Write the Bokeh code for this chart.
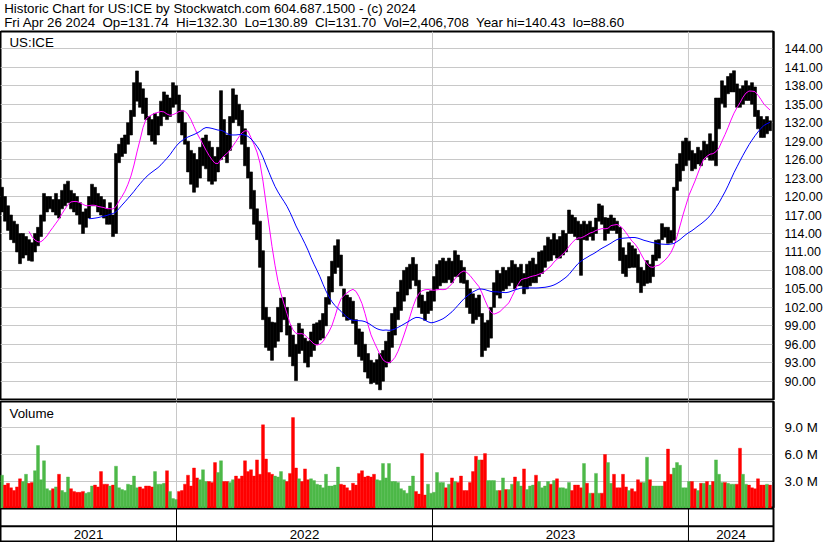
import pandas as pd
from bokeh.plotting import figure
from bokeh.models import Range1d, FixedTicker, Span, Label, NumeralTickFormatter
from bokeh.layouts import column
from bokeh.embed import file_html
from bokeh.resources import INLINE
from bokeh.core.properties import value

NB = "\u00a0 "  # keeps the double spacing of the original header
TITLE_1 = "Historic Chart for US:ICE by Stockwatch.com 604.687.1500 - (c) 2024"
TITLE_2 = NB.join(["Fri Apr 26 2024", "Op=131.74", "Hi=132.30", "Lo=130.89",
                   "Cl=131.70", "Vol=2,406,708", "Year hi=140.43", "lo=88.60"])
SYMBOL = "US:ICE"

# one bar = 3 trading days
HIGH = [121.5, 120, 118.5, 117, 116, 115.5, 114, 114, 113.5, 113,
        112.5, 114, 115, 117, 120.5, 120, 120, 119.5, 120.5, 119.5,
        121, 122, 122.5, 121, 120.5, 120, 119, 117.5, 118, 120,
        122, 121.5, 120.5, 120, 119.5, 118, 119, 117, 127, 128.5,
        129.5, 130, 132, 134, 138.5, 140.4, 138.5, 137.5, 136, 133,
        132.5, 133.5, 133, 135.5, 137, 136.5, 136, 138.5, 138, 136.5,
        134, 132, 129, 127.5, 127, 126, 128, 129.5, 130, 129,
        128, 126.5, 128, 137.2, 132.5, 130, 133, 137.5, 136.5, 135,
        134, 131, 128, 124, 121, 118, 116, 111.2, 102, 100.4,
        99.6, 99.5, 102, 103.5, 103.6, 102, 99, 97.5, 96, 99.4,
        98.5, 97, 96.5, 98, 99.3, 99.5, 99.9, 101, 103.6, 107,
        109.5, 112, 113, 110.5, 105, 104, 103.6, 103, 100, 98.5,
        98, 96, 94.5, 93.4, 93, 93.5, 94.5, 95, 96.5, 98,
        101, 102, 104.5, 106.4, 108, 108.5, 109, 110.1, 109, 106.4,
        104, 103, 104.5, 104.7, 107, 109, 109.6, 110, 109.5, 110,
        109.5, 111.2, 110.5, 109.6, 108.5, 106.4, 105, 104.2, 103.5, 104,
        101, 99.5, 99.9, 102, 106, 108, 107.5, 108.5, 108, 108.5,
        109.6, 109, 108.5, 109, 107.5, 109, 109.5, 110, 109, 111,
        111.2, 112, 113.4, 113, 114, 113, 113.5, 114.5, 114, 117.8,
        117, 116.6, 116, 115.5, 116, 115.5, 116, 115, 116.5, 118.8,
        118.5, 116.6, 116.5, 117, 116.5, 116, 115, 111.7, 110.5, 112.5,
        112, 111.5, 110.6, 108.5, 108, 109.6, 109, 110.5, 112.9, 113,
        115.6, 115, 115, 114.5, 121.5, 125.3, 127, 129, 129.5, 129,
        127.5, 127, 128, 127.5, 129, 128.5, 130.2, 129, 136, 136,
        138.8, 138, 139.5, 140, 140.43, 138.3, 137.5, 138, 138.8, 138,
        138.5, 137.8, 134, 133, 132.5, 133, 132.3]
LOW = [117.5, 116, 114.5, 113, 112.5, 111, 109.1, 110, 110.5, 109.6,
       109.5, 111, 112, 113.5, 116, 117.5, 118, 117.5, 117, 116.5,
       118, 118.5, 119, 118, 117.5, 117, 115.5, 114, 115, 116.5,
       118.5, 118.5, 117.5, 117, 116.5, 115.5, 115.5, 113.5, 114, 125.5,
       126.5, 127, 128.5, 130, 133, 135.5, 134.5, 133.5, 132.5, 130,
       129, 128.5, 130, 131.5, 133, 132.5, 133, 134.5, 135, 132,
       130, 128.5, 124, 122, 120.7, 121.5, 123, 125, 124.5, 122.5,
       122, 122.5, 124, 126, 126.5, 125.5, 127.5, 132, 132.5, 131.5,
       128.5, 125, 123, 118, 115.5, 113, 108.5, 100, 95.5, 95,
       93.4, 95.5, 96.5, 98, 100, 97.5, 94, 92.5, 90.1, 94.5,
       95, 93, 92.3, 94, 95, 96, 96.7, 97, 99, 102.5,
       104.5, 107.5, 108.5, 105.5, 100.5, 99.9, 100, 99.4, 96, 94,
       93.4, 91.5, 90.5, 89.6, 89.8, 89.5, 88.6, 90, 92.3, 93,
       95.5, 97.5, 100, 101.5, 103, 104, 105, 106.4, 105.5, 102,
       101, 99.9, 101, 101.5, 103, 105, 105.5, 106, 106, 106.5,
       106, 107, 107, 106, 105.9, 102, 101, 99.4, 100, 100.5,
       94, 95, 95.5, 97, 102, 104, 103.5, 104.7, 105, 105.5,
       106, 105, 105.5, 105.5, 104.2, 105, 105.5, 106, 106, 107,
       107.5, 108.5, 109.5, 109.6, 110.5, 110, 110, 110.5, 111, 114,
       114, 113.5, 113, 107.2, 113, 112.9, 113.5, 112.9, 114, 116,
       115.5, 112.9, 114, 114.5, 114.5, 114, 109.6, 107.5, 107, 108.4,
       108.5, 108.5, 106, 104.4, 105.5, 105.9, 106, 107, 109.6, 110,
       113, 113.4, 112.4, 112.5, 112.9, 121, 122.5, 124.2, 125, 125.9,
       124.2, 124.5, 125.3, 125, 126, 126.4, 125.9, 125.9, 125, 131,
       135.1, 134.5, 136.7, 137, 137, 134.5, 134.5, 135, 135.6, 135.6,
       135, 133, 131, 129.6, 129.6, 130.2, 130.7]
# volume per bar, millions of shares
VOLUME_M = [3.7, 2.6, 2.8, 2.3, 2.0, 2.4, 3.3, 3.0, 3.8, 2.8,
            2.9, 4.2, 7.0, 3.2, 5.3, 2.2, 2.0, 2.2, 2.4, 3.8,
            2.0, 1.8, 3.5, 2.2, 1.9, 1.8, 1.8, 1.9, 1.7, 1.8,
            2.5, 2.6, 2.4, 4.1, 2.7, 2.7, 2.5, 2.6, 4.7, 2.3,
            2.1, 2.0, 2.7, 2.6, 3.6, 2.3, 2.4, 2.2, 2.5, 2.5,
            2.4, 4.1, 2.7, 2.7, 2.8, 4.2, 1.9, 1.1, 1.0, 1.9,
            2.0, 2.7, 3.7, 2.5, 4.5, 3.4, 3.2, 4.3, 3.0, 3.0,
            2.9, 5.1, 4.0, 5.3, 3.0, 3.0, 2.9, 3.2, 3.6, 3.3,
            3.6, 5.3, 4.1, 4.3, 3.6, 5.4, 3.8, 9.3, 5.5, 4.0,
            3.8, 3.6, 3.5, 4.1, 3.2, 3.0, 3.9, 10.1, 4.5, 3.3,
            3.0, 4.4, 3.2, 3.3, 3.1, 2.7, 2.6, 2.3, 3.8, 2.5,
            2.5, 2.6, 4.6, 2.7, 2.6, 2.3, 2.0, 2.8, 2.6, 3.9,
            4.2, 3.5, 3.6, 3.5, 3.8, 3.2, 3.1, 5.0, 3.4, 5.0,
            3.0, 3.0, 2.9, 2.2, 2.0, 1.7, 2.5, 3.6, 1.9, 1.6,
            6.1, 1.5, 2.7, 1.7, 1.8, 4.0, 2.9, 2.9, 2.3, 2.7,
            3.4, 3.0, 2.9, 3.6, 2.0, 2.0, 2.9, 4.1, 5.8, 5.4,
            5.4, 6.1, 3.1, 3.1, 3.1, 2.0, 2.0, 3.4, 2.1, 2.1,
            2.7, 3.5, 3.0, 2.5, 4.4, 2.1, 2.5, 2.6, 3.7, 3.0,
            2.3, 2.5, 3.0, 2.7, 3.1, 3.3, 2.3, 2.3, 2.2, 2.9,
            2.0, 2.6, 2.6, 2.3, 5.0, 2.8, 1.7, 1.7, 3.9, 1.7,
            1.7, 6.0, 5.1, 2.8, 3.8, 2.3, 2.3, 3.8, 2.4, 2.0,
            2.2, 1.9, 3.2, 2.9, 2.9, 5.7, 3.2, 2.5, 2.5, 2.5,
            2.5, 3.0, 6.6, 3.8, 4.5, 5.1, 4.8, 2.3, 2.3, 3.0,
            3.0, 2.2, 2.0, 2.8, 2.8, 3.0, 2.6, 3.0, 5.4, 3.8,
            2.9, 2.9, 2.8, 2.7, 2.7, 2.7, 6.7, 3.8, 2.7, 2.6,
            2.3, 2.2, 3.3, 2.6, 2.6, 2.7, 2.6]

PRICE_TICKS = [90, 93, 96, 99, 102, 105, 108, 111, 114, 117, 120, 123, 126,
               129, 132, 135, 138, 141, 144]
VOLUME_TICKS = [3, 6, 9]
VOLUME_LABELS = ["3.0 M", "6.0 M", "9.0 M"]
YEAR_LABELS = ["2021", "2022", "2023", "2024"]
YEAR_STARTS = [58.67, 144.0, 229.33]   # bar position where each new year begins
MA_FAST = 10   # bars (30 days)
MA_SLOW = 30   # bars (90 days)

FONT = "Liberation Sans"
GRID = "#c8c8c8"
GREEN = "#4db848"
RED = "#ff0000"

n = len(HIGH)
xs = [i + 0.5 for i in range(n)]
mid = pd.Series([(h + l) / 2 for h, l in zip(HIGH, LOW)])
ma_fast = mid.rolling(MA_FAST).mean().tolist()
ma_slow = mid.rolling(MA_SLOW).mean().tolist()
vol_colors = [GREEN if i == 0 or mid[i] >= mid[i - 1] else RED for i in range(n)]

W = 830
RIGHT = 57
x_range = Range1d(0, n + 0.67)


def base(height, y_range, x_rng, right=RIGHT, axis=True, top=0):
    f = figure(width=W, height=height, x_range=x_rng, y_range=y_range,
               output_backend="svg", toolbar_location=None,
               x_axis_location=None, y_axis_location="right" if axis else None,
               min_border_left=0, min_border_right=right, min_border_top=top,
               min_border_bottom=0)
    f.background_fill_color = "white"
    f.border_fill_color = "white"
    f.xgrid.visible = False
    return f


def style_axis(f, ticks, size):
    ax = f.yaxis[0]
    ax.ticker = FixedTicker(ticks=ticks)
    ax.axis_line_color = "black"
    ax.axis_line_width = 2
    ax.major_tick_line_color = None
    ax.minor_tick_line_color = None
    ax.major_label_standoff = 5
    ax.major_label_text_font = FONT
    ax.major_label_text_font_size = size
    ax.major_label_text_color = "black"
    f.ygrid.ticker = FixedTicker(ticks=ticks)
    f.ygrid.grid_line_color = GRID


# --- title strip ---
t = base(31, Range1d(0, 31), Range1d(0, W), right=0, axis=False)
t.outline_line_color = None
t.ygrid.visible = False
t.text(x=[4, 4], y=[23.0, 9.2], text=[TITLE_1, TITLE_2],
       text_font=value(FONT), text_font_size=value("13.3px"),
       text_baseline="middle", text_align="left", text_color="black")
t.add_layout(Span(location=0.5, dimension="width", line_color="black", line_width=1))

# --- price panel ---
p = base(369, Range1d(86.87, 146.81), x_range)
p.outline_line_color = "black"
p.outline_line_width = 2
style_axis(p, PRICE_TICKS, "12.5px")
p.yaxis[0].formatter = NumeralTickFormatter(format="0.00")
for ys in YEAR_STARTS:
    p.add_layout(Span(location=ys, dimension="height", line_color=GRID,
                      line_width=1, level="underlay"))
p.vbar(x=xs, width=1.0, top=HIGH, bottom=LOW, fill_color="black",
       line_color="black", line_width=0.6)
p.line(xs, ma_fast, line_color="#ff00ff", line_width=1)
p.line(xs, ma_slow, line_color="#0000ff", line_width=1)
p.add_layout(Label(x=3.0, y=145.0, text=SYMBOL, text_font=FONT, text_font_size="13.3px",
                   text_baseline="middle", text_align="left", text_color="black"))

# --- volume panel ---
v = base(108, Range1d(0, 11.89), x_range, top=1)
v.outline_line_color = "black"
v.outline_line_width = 2
style_axis(v, VOLUME_TICKS, "13.3px")
v.yaxis[0].major_label_overrides = {t_: l_ for t_, l_ in zip(VOLUME_TICKS, VOLUME_LABELS)}
for ys in YEAR_STARTS:
    v.add_layout(Span(location=ys, dimension="height", line_color=GRID,
                      line_width=1, level="underlay"))
v.vbar(x=xs, width=1.0, top=VOLUME_M, bottom=0, fill_color=vol_colors,
       line_color=vol_colors, line_width=0.4)
v.add_layout(Label(x=3.0, y=10.6, text="Volume", text_font=FONT, text_font_size="13.3px",
                   text_baseline="middle", text_align="left", text_color="black"))

# --- year strip ---
yr = base(34, Range1d(0, 1), x_range, axis=False)
yr.outline_line_color = "black"
yr.outline_line_width = 2
yr.ygrid.visible = False
for ys in YEAR_STARTS:
    yr.add_layout(Span(location=ys, dimension="height", line_color="black", line_width=1))
yr.add_layout(Span(location=0.48, dimension="width", line_color="black", line_width=2))
edges = [x_range.start] + YEAR_STARTS + [x_range.end]
centers = [(edges[i] + edges[i + 1]) / 2 for i in range(len(YEAR_LABELS))]
yr.text(x=centers, y=[0.24] * len(YEAR_LABELS), text=YEAR_LABELS,
        text_font=value(FONT), text_font_size=value("13.3px"),
        text_baseline="middle", text_align="center", text_color="black")

layout = column(t, p, v, yr, spacing=0)
open("out.html", "w").write(file_html(layout, INLINE))
